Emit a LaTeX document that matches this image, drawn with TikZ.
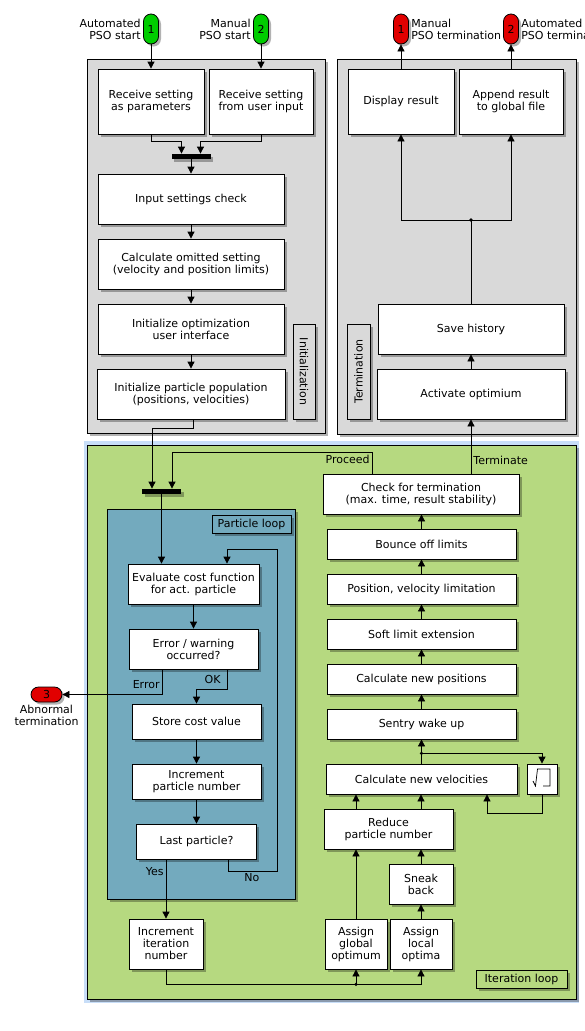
\documentclass[tikz,border=0pt]{standalone}
\usepackage{fontspec}
\setmainfont{DejaVu Sans}
\usetikzlibrary{arrows.meta,shadows}
\definecolor{lanegray}{RGB}{217,217,217}
\definecolor{itergreen}{RGB}{182,217,128}
\definecolor{loopteal}{RGB}{115,170,190}
\definecolor{glowblue}{RGB}{200,222,248}
\definecolor{startgreen}{RGB}{0,205,0}
\definecolor{stopred}{RGB}{225,0,0}
\tikzstyle{every node}=[font=\fontsize{11}{12}\selectfont, inner sep=0pt]
\tikzset{
  shade/.style={drop shadow={shadow xshift=2.5pt, shadow yshift=-2.5pt, opacity=0.3, fill=black}},
  box/.style={draw, fill=white, align=center, shade},
  lane/.style={draw, shade},
  bar/.style={fill=black, minimum width=39pt, minimum height=5pt, shade},
  term/.style={draw, rounded corners=7.5pt, minimum width=15pt, minimum height=30pt, shade},
  lbl/.style={inner sep=2pt},
}

\begin{document}
\begin{tikzpicture}[x=1pt, y=-1pt, line width=0.8pt, >={Triangle[width=7pt,length=7pt]}]
    \useasboundingbox (0,0) rectangle (584,1031);

    \node[lane, fill=lanegray, minimum width=238pt, minimum height=374pt] (initlane) at (206,246) {};
    \node[lane, fill=lanegray, minimum width=239pt, minimum height=375pt] (termlane) at (456.5,246.5) {};
    \node[fill=glowblue, minimum width=495pt, minimum height=562pt] (glow) at (331.5,722) {};
    \node[lane, fill=itergreen, minimum width=489pt, minimum height=554pt] (iterlane) at (331.5,722) {};
    \node[lane, fill=loopteal, minimum width=188pt, minimum height=390pt] (partlane) at (201,704) {};

    \node[lane, fill=lanegray, rotate=-90, minimum width=95pt, minimum height=22pt] (initname) at (304,371.5) {Initialization};
    \node[lane, fill=lanegray, rotate=90, minimum width=95pt, minimum height=23pt] (termname) at (358.5,371.5) {Termination};
    \node[lane, fill=loopteal, minimum width=79pt, minimum height=18pt] (partname) at (251.5,524) {Particle loop};
    \node[lane, fill=itergreen, minimum width=91pt, minimum height=18pt] (itername) at (521.5,979) {Iteration loop};

    \node[term, fill=startgreen] (start1) at (151,29) {1};
    \node[term, fill=startgreen] (start2) at (261,29) {2};
    \node[term, fill=stopred] (stop1) at (401,29) {1};
    \node[term, fill=stopred] (stop2) at (511,29) {2};
    \node[term, fill=stopred, minimum width=31pt, minimum height=15pt] (stop3) at (46.5,694.5) {3};
    \node[lbl, anchor=east, align=right] (start1txt) at (start1.west) {Automated\\PSO start};
    \node[lbl, anchor=east, align=right] (start2txt) at (start2.west) {Manual\\PSO start};
    \node[lbl, anchor=west, align=left] (stop1txt) at (stop1.east) {Manual\\PSO termination};
    \node[lbl, anchor=west, align=left] (stop2txt) at (stop2.east) {Automated\\PSO termination};
    \node[lbl, anchor=north, align=center] (stop3txt) at (stop3.south) {Abnormal\\termination};

    \node[box, minimum width=106pt, minimum height=65pt] (recvpar) at (151,101.5) {Receive setting\\as parameters};
    \node[box, minimum width=104pt, minimum height=65pt] (recvusr) at (261,101.5) {Receive setting\\from user input};
    \node[bar] (join1) at (191,156.5) {};
    \node[box, minimum width=186pt, minimum height=50pt] (check) at (191,199) {Input settings check};
    \node[box, minimum width=186pt, minimum height=50pt] (omitted) at (191,264) {Calculate omitted setting\\(velocity and position limits)};
    \node[box, minimum width=186pt, minimum height=50pt] (initui) at (191,329) {Initialize optimization\\user interface};
    \node[box, minimum width=188pt, minimum height=50pt] (initpop) at (191,394) {Initialize particle population\\(positions, velocities)};

    \node[box, minimum width=106pt, minimum height=65pt] (display) at (401,101.5) {Display result};
    \node[box, minimum width=104pt, minimum height=65pt] (append) at (511,101.5) {Append result\\to global file};
    \node[box, minimum width=186pt, minimum height=50pt] (save) at (471,329) {Save history};
    \node[box, minimum width=188pt, minimum height=50pt] (activate) at (471,394) {Activate optimium};

    \node[bar] (join2) at (161.5,491.5) {};
    \node[box, minimum width=196pt, minimum height=40pt] (termcheck) at (421,494) {Check for termination\\(max. time, result stability)};
    \node[box, minimum width=131pt, minimum height=40pt] (evaluate) at (193.5,584) {Evaluate cost function\\for act. particle};
    \node[box, minimum width=129pt, minimum height=40pt] (errchk) at (193.5,649) {Error / warning\\occurred?};
    \node[box, minimum width=129pt, minimum height=35pt] (store) at (196.5,721.5) {Store cost value};
    \node[box, minimum width=129pt, minimum height=35pt] (incpart) at (196.5,781.5) {Increment\\particle number};
    \node[box, minimum width=120pt, minimum height=35pt] (last) at (196.5,841.5) {Last particle?};
    \node[box, minimum width=74pt, minimum height=50pt] (inciter) at (166,944) {Increment\\iteration\\number};

    \node[box, minimum width=189pt, minimum height=30pt] (bounce) at (421.5,544) {Bounce off limits};
    \node[box, minimum width=189pt, minimum height=30pt] (limit) at (421.5,589) {Position, velocity limitation};
    \node[box, minimum width=189pt, minimum height=30pt] (soft) at (421.5,634) {Soft limit extension};
    \node[box, minimum width=189pt, minimum height=30pt] (newpos) at (421.5,679) {Calculate new positions};
    \node[box, minimum width=189pt, minimum height=30pt] (sentry) at (421.5,724) {Sentry wake up};
    \node[box, minimum width=191pt, minimum height=30pt] (newvel) at (421.5,779) {Calculate new velocities};
    \node[box, minimum width=30pt, minimum height=30pt] (sqrtbox) at (542,779) {};
    \node[box, minimum width=129pt, minimum height=40pt] (reduce) at (388.5,829) {Reduce\\particle number};
    \node[box, minimum width=64pt, minimum height=40pt] (sneak) at (421,884) {Sneak\\back};
    \node[box, minimum width=62pt, minimum height=50pt] (global) at (356,944) {Assign\\global\\optimum};
    \node[box, minimum width=62pt, minimum height=50pt] (local) at (421,944) {Assign\\local\\optima};

    \draw[line width=0.7pt] (sqrtbox.center) ++(-9,2) -- ++(2.5,5) -- ++(2,-17) -- ++(12.5,0) -- ++(0,17) -- ++(-7,0);

    \draw[->] (start1.south) -- (recvpar.north);
    \draw[->] (start2.south) -- (recvusr.north);
    \draw[->] (recvpar.south) -- ++(0,7) -| ([xshift=-9.5pt]join1.north);
    \draw[->] (recvusr.south) -- ++(0,7) -| ([xshift=9.5pt]join1.north);
    \draw[->] (join1.south) -- (check.north);
    \draw[->] (check.south) -- (omitted.north);
    \draw[->] (omitted.south) -- (initui.north);
    \draw[->] (initui.south) -- (initpop.north);
    \draw[->] ([xshift=2pt]initpop.south) -- ++(0,9) -| ([xshift=-9.5pt]join2.north);

    \draw[->] (activate.north) -- (save.south);
    \coordinate (tsplit) at (471,220);
    \draw (save.north) -- (tsplit);
    \draw[->] (tsplit) -| (display.south);
    \draw[->] (tsplit) -| (append.south);
    \fill (tsplit) circle (1.8pt);
    \draw[->] (display.north) -- (stop1.south);
    \draw[->] (append.north) -- (stop2.south);

    \draw[->] ([xshift=-49pt]termcheck.north) -- ++(0,-21) coordinate (proc) -| ([xshift=10.5pt]join2.north);
    \node[lbl, anchor=north east] (proctxt) at (proc) {Proceed};
    \draw[->] (termcheck.north -| activate) -- node[lbl, anchor=west, pos=0.24] (termtxt) {Terminate} (activate.south);

    \draw[->] (join2.south) -- (join2.south |- evaluate.north);
    \draw[->] (evaluate.south) -- (errchk.north);
    \draw[->] ([xshift=-31.5pt]errchk.south) |- node[lbl, anchor=east, pos=0.3] (errtxt) {Error} (stop3.east);
    \draw[->] ([xshift=33.5pt]errchk.south) -- node[lbl, anchor=east, xshift=-4pt] (oktxt) {OK} ++(0,20) -| (store.north);
    \draw[->] (store.south) -- (incpart.north);
    \draw[->] (incpart.south) -- (last.north);
    \draw[->] ([xshift=31.5pt]last.south) -- ++(0,12) node[lbl, anchor=north west, xshift=14pt] (notxt) {No} -| (277,549) -| ([xshift=33.5pt]evaluate.north);
    \draw[->] (last.south -| inciter) -- node[lbl, anchor=east, pos=0.2] (yestxt) {Yes} (inciter.north);

    \coordinate (gsplit) at ([yshift=-15pt]global.south);
    \draw (inciter.south) |- (gsplit);
    \draw[->] (gsplit) -- (global.south);
    \draw[->] (gsplit) -| (local.south);
    \fill (gsplit) circle (1.8pt);
    \draw[->] (global.north) -- (global.north |- reduce.south);
    \draw[->] (local.north) -- (sneak.south);
    \draw[->] (sneak.north) -- (reduce.south -| sneak);
    \draw[->] (reduce.north -| global) -- (newvel.south -| global);
    \draw[->] (reduce.north -| sneak) -- (newvel.south -| sneak);
    \draw[->] (sqrtbox.south) -- ++(0,19) -| ([xshift=65.5pt]newvel.south);
    \coordinate (vsplit) at ([yshift=-14pt]sentry.south);
    \draw (newvel.north) -- (vsplit);
    \draw[->] (vsplit) -- (sentry.south);
    \draw[->] (vsplit) -| (sqrtbox.north);
    \fill (vsplit) circle (1.8pt);
    \draw[->] (sentry.north) -- (newpos.south);
    \draw[->] (newpos.north) -- (soft.south);
    \draw[->] (soft.north) -- (limit.south);
    \draw[->] (limit.north) -- (bounce.south);
    \draw[->] (bounce.north) -- (bounce.north |- termcheck.south);
\end{tikzpicture}
\end{document}
